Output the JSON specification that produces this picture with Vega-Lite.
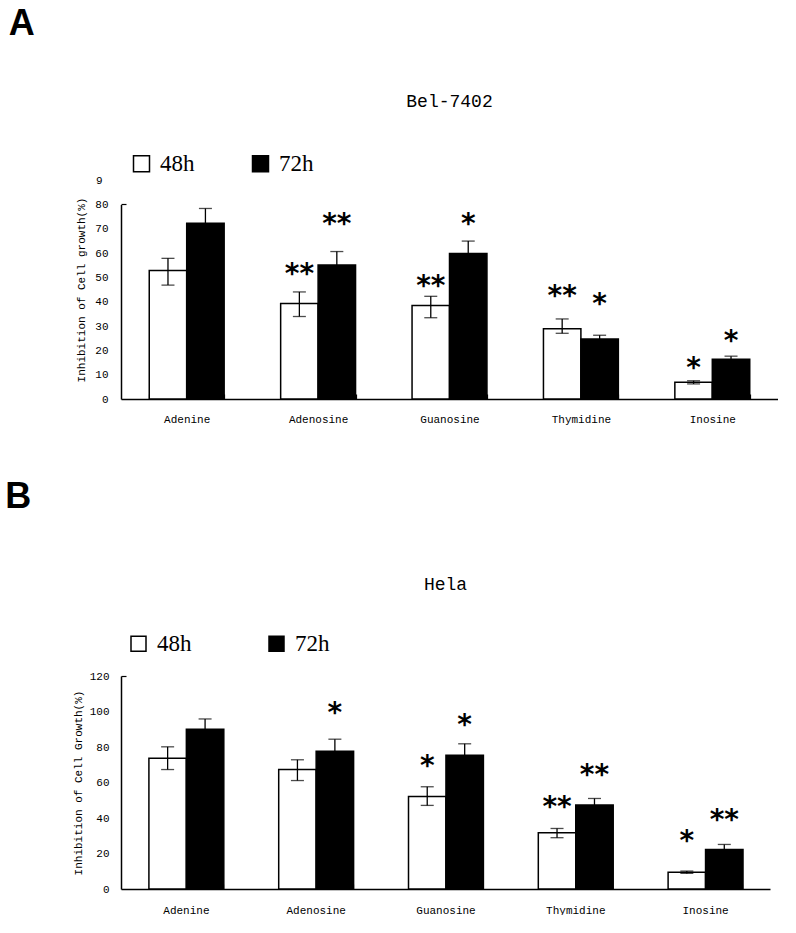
{
  "$schema": "https://vega.github.io/schema/vega-lite/v6.json",
  "background": "white",
  "padding": {"left": 5, "top": 6, "right": 0, "bottom": 0},
  "config": {
    "view": {"stroke": null},
    "axis": {"grid": false, "domainColor": "black", "domainWidth": 1.5, "labelColor": "black", "titleColor": "black", "tickColor": "black", "labelFont": "Liberation Mono", "labelFontSize": 11, "titleFont": "Liberation Mono", "titleFontSize": 11, "titleFontWeight": "normal"},
    "title": {"color": "black"}
  },
  "datasets": {
    "bel": [
      {"compound": "Adenine", "time": "48h", "mean": 52.8, "lo": 46.8, "hi": 57.8, "sig": "", "sig_y": 0},
      {"compound": "Adenine", "time": "72h", "mean": 72.2, "lo": 66.1, "hi": 78.3, "sig": "", "sig_y": 0},
      {"compound": "Adenosine", "time": "48h", "mean": 39.2, "lo": 33.9, "hi": 44.0, "sig": "**", "sig_y": 54.3},
      {"compound": "Adenosine", "time": "72h", "mean": 55.1, "lo": 49.6, "hi": 60.6, "sig": "**", "sig_y": 74.9},
      {"compound": "Guanosine", "time": "48h", "mean": 38.4, "lo": 33.4, "hi": 42.2, "sig": "**", "sig_y": 49.5},
      {"compound": "Guanosine", "time": "72h", "mean": 59.8, "lo": 54.7, "hi": 64.9, "sig": "*", "sig_y": 74.9},
      {"compound": "Thymidine", "time": "48h", "mean": 28.9, "lo": 27.0, "hi": 32.9, "sig": "**", "sig_y": 45.1},
      {"compound": "Thymidine", "time": "72h", "mean": 24.7, "lo": 23.2, "hi": 26.2, "sig": "*", "sig_y": 42.0},
      {"compound": "Inosine", "time": "48h", "mean": 6.9, "lo": 6.2, "hi": 7.5, "sig": "*", "sig_y": 15.6},
      {"compound": "Inosine", "time": "72h", "mean": 16.3, "lo": 15.0, "hi": 17.6, "sig": "*", "sig_y": 26.9}
    ],
    "hela": [
      {"compound": "Adenine", "time": "48h", "mean": 73.7, "lo": 67.3, "hi": 80.1, "sig": "", "sig_y": 0},
      {"compound": "Adenine", "time": "72h", "mean": 90.0, "lo": 84.2, "hi": 95.8, "sig": "", "sig_y": 0},
      {"compound": "Adenosine", "time": "48h", "mean": 67.3, "lo": 61.1, "hi": 72.8, "sig": "", "sig_y": 0},
      {"compound": "Adenosine", "time": "72h", "mean": 77.6, "lo": 70.8, "hi": 84.4, "sig": "*", "sig_y": 103.1},
      {"compound": "Guanosine", "time": "48h", "mean": 52.1, "lo": 47.1, "hi": 57.6, "sig": "*", "sig_y": 73.1},
      {"compound": "Guanosine", "time": "72h", "mean": 75.4, "lo": 69.0, "hi": 81.8, "sig": "*", "sig_y": 96.6},
      {"compound": "Thymidine", "time": "48h", "mean": 31.7, "lo": 28.9, "hi": 34.1, "sig": "**", "sig_y": 50.3},
      {"compound": "Thymidine", "time": "72h", "mean": 47.3, "lo": 43.6, "hi": 51.0, "sig": "**", "sig_y": 67.9},
      {"compound": "Inosine", "time": "48h", "mean": 9.4, "lo": 8.8, "hi": 10.1, "sig": "*", "sig_y": 30.9},
      {"compound": "Inosine", "time": "72h", "mean": 22.3, "lo": 19.5, "hi": 25.1, "sig": "**", "sig_y": 42.6}
    ]
  },
  "resolve": {"scale": {"fill": "independent"}, "legend": {"fill": "independent"}},
  "spacing": 55,
  "vconcat": [
    {
      "title": {"text": "A", "anchor": "start", "frame": "bounds", "font": "Liberation Sans", "fontSize": 36, "fontWeight": "bold", "offset": 50, "dx": -67},
      "vconcat": [
        {
          "title": {"text": "Bel-7402", "font": "Liberation Mono", "fontSize": 18, "fontWeight": "normal", "anchor": "middle", "offset": 63},
          "width": 657,
          "height": 219,
          "data": {"name": "bel"},
          "encoding": {
            "x": {"field": "compound", "type": "nominal", "sort": ["Adenine", "Adenosine", "Guanosine", "Thymidine", "Inosine"], "scale": {"paddingInner": 0.43, "paddingOuter": 0.215}, "axis": {"title": null, "labelAngle": 0, "labelPadding": 19, "tickBand": "extent", "tickSize": -5, "tickWidth": 1.2}},
            "xOffset": {"field": "time", "type": "nominal", "scale": {"paddingInner": 0, "paddingOuter": 0}}
          },
          "layer": [
            {
              "mark": {"type": "bar", "stroke": "black", "strokeWidth": 1.5},
              "encoding": {
                "y": {"field": "mean", "type": "quantitative", "title": "Inhibition of Cell growth(%)", "scale": {"domain": [0, 90]}, "axis": {"titlePadding": 8, "domainDash": [194.5, 60], "values": [0, 10, 20, 30, 40, 50, 60, 70, 80, 90], "labelExpr": "datum.value == 90 ? '9' : datum.label", "labelPadding": {"condition": {"test": "datum.value == 90", "value": 24}, "value": 18}, "tickSize": -5, "tickWidth": 1.2, "tickOpacity": {"condition": {"test": "datum.value == 80", "value": 1}, "value": 0}}},
                "fill": {"field": "time", "type": "nominal", "scale": {"domain": ["48h", "72h"], "range": ["white", "black"]}, "legend": {"orient": "none", "legendX": 9, "legendY": -28, "direction": "horizontal", "title": null, "symbolType": "square", "symbolSize": 256, "symbolStrokeColor": "black", "symbolStrokeWidth": 1.5, "labelFont": "Liberation Serif", "labelFontSize": 23, "labelColor": "black", "labelOffset": 7, "columnPadding": 54, "padding": 0}}
              }
            },
            {
              "mark": {"type": "rule", "color": "black", "strokeWidth": 1.3},
              "encoding": {"y": {"field": "lo", "type": "quantitative", "title": "Inhibition of Cell growth(%)", "axis": {"titlePadding": 8, "domainDash": [194.5, 60], "values": [0, 10, 20, 30, 40, 50, 60, 70, 80, 90], "labelExpr": "datum.value == 90 ? '9' : datum.label", "labelPadding": {"condition": {"test": "datum.value == 90", "value": 24}, "value": 18}, "tickSize": -5, "tickWidth": 1.2, "tickOpacity": {"condition": {"test": "datum.value == 80", "value": 1}, "value": 0}}}, "y2": {"field": "hi"}}
            },
            {
              "mark": {"type": "tick", "color": "black", "thickness": 1.3, "size": 13},
              "encoding": {"y": {"field": "hi", "type": "quantitative", "title": "Inhibition of Cell growth(%)", "axis": {"titlePadding": 8, "domainDash": [194.5, 60], "values": [0, 10, 20, 30, 40, 50, 60, 70, 80, 90], "labelExpr": "datum.value == 90 ? '9' : datum.label", "labelPadding": {"condition": {"test": "datum.value == 90", "value": 24}, "value": 18}, "tickSize": -5, "tickWidth": 1.2, "tickOpacity": {"condition": {"test": "datum.value == 80", "value": 1}, "value": 0}}}}
            },
            {
              "mark": {"type": "tick", "color": "black", "thickness": 1.3, "size": 13},
              "encoding": {"y": {"field": "lo", "type": "quantitative", "title": "Inhibition of Cell growth(%)", "axis": {"titlePadding": 8, "domainDash": [194.5, 60], "values": [0, 10, 20, 30, 40, 50, 60, 70, 80, 90], "labelExpr": "datum.value == 90 ? '9' : datum.label", "labelPadding": {"condition": {"test": "datum.value == 90", "value": 24}, "value": 18}, "tickSize": -5, "tickWidth": 1.2, "tickOpacity": {"condition": {"test": "datum.value == 80", "value": 1}, "value": 0}}}}
            },
            {
              "transform": [{"filter": "datum.sig != ''"}],
              "mark": {"type": "text", "font": "DejaVu Sans", "fontWeight": "bold", "fontSize": 28, "color": "black", "baseline": "alphabetic", "dy": 16},
              "encoding": {"y": {"field": "sig_y", "type": "quantitative", "title": "Inhibition of Cell growth(%)", "axis": {"titlePadding": 8, "domainDash": [194.5, 60], "values": [0, 10, 20, 30, 40, 50, 60, 70, 80, 90], "labelExpr": "datum.value == 90 ? '9' : datum.label", "labelPadding": {"condition": {"test": "datum.value == 90", "value": 24}, "value": 18}, "tickSize": -5, "tickWidth": 1.2, "tickOpacity": {"condition": {"test": "datum.value == 80", "value": 1}, "value": 0}}}, "text": {"field": "sig"}}
            }
          ]
        }
      ]
    },
    {
      "title": {"text": "B", "anchor": "start", "frame": "bounds", "font": "Liberation Sans", "fontSize": 36, "fontWeight": "bold", "offset": 60, "dx": -67},
      "vconcat": [
        {
          "title": {"text": "Hela", "font": "Liberation Mono", "fontSize": 18, "fontWeight": "normal", "anchor": "middle", "offset": 76},
          "width": 649,
          "height": 213,
          "data": {"name": "hela"},
          "encoding": {
            "x": {"field": "compound", "type": "nominal", "sort": ["Adenine", "Adenosine", "Guanosine", "Thymidine", "Inosine"], "scale": {"paddingInner": 0.43, "paddingOuter": 0.215}, "axis": {"title": null, "labelAngle": 0, "labelPadding": 20, "tickBand": "extent", "tickSize": -5, "tickWidth": 1.2}},
            "xOffset": {"field": "time", "type": "nominal", "scale": {"paddingInner": 0, "paddingOuter": 0}}
          },
          "layer": [
            {
              "mark": {"type": "bar", "stroke": "black", "strokeWidth": 1.5},
              "encoding": {
                "y": {"field": "mean", "type": "quantitative", "title": "Inhibition of Cell Growth(%)", "scale": {"domain": [0, 120]}, "axis": {"titlePadding": 6, "values": [0, 20, 40, 60, 80, 100, 120], "labelPadding": 17, "tickSize": -5, "tickWidth": 1.2, "tickOpacity": {"condition": {"test": "datum.value == 120", "value": 1}, "value": 0}}},
                "fill": {"field": "time", "type": "nominal", "scale": {"domain": ["48h", "72h"], "range": ["white", "black"]}, "legend": {"orient": "none", "legendX": 6, "legendY": -44, "direction": "horizontal", "title": null, "symbolType": "square", "symbolSize": 225, "symbolStrokeColor": "black", "symbolStrokeWidth": 1.5, "labelFont": "Liberation Serif", "labelFontSize": 23, "labelColor": "black", "labelOffset": 7, "columnPadding": 73, "padding": 0}}
              }
            },
            {
              "mark": {"type": "rule", "color": "black", "strokeWidth": 1.3},
              "encoding": {"y": {"field": "lo", "type": "quantitative", "title": "Inhibition of Cell Growth(%)", "axis": {"titlePadding": 6, "values": [0, 20, 40, 60, 80, 100, 120], "labelPadding": 17, "tickSize": -5, "tickWidth": 1.2, "tickOpacity": {"condition": {"test": "datum.value == 120", "value": 1}, "value": 0}}}, "y2": {"field": "hi"}}
            },
            {
              "mark": {"type": "tick", "color": "black", "thickness": 1.3, "size": 13},
              "encoding": {"y": {"field": "hi", "type": "quantitative", "title": "Inhibition of Cell Growth(%)", "axis": {"titlePadding": 6, "values": [0, 20, 40, 60, 80, 100, 120], "labelPadding": 17, "tickSize": -5, "tickWidth": 1.2, "tickOpacity": {"condition": {"test": "datum.value == 120", "value": 1}, "value": 0}}}}
            },
            {
              "mark": {"type": "tick", "color": "black", "thickness": 1.3, "size": 13},
              "encoding": {"y": {"field": "lo", "type": "quantitative", "title": "Inhibition of Cell Growth(%)", "axis": {"titlePadding": 6, "values": [0, 20, 40, 60, 80, 100, 120], "labelPadding": 17, "tickSize": -5, "tickWidth": 1.2, "tickOpacity": {"condition": {"test": "datum.value == 120", "value": 1}, "value": 0}}}}
            },
            {
              "transform": [{"filter": "datum.sig != ''"}],
              "mark": {"type": "text", "font": "DejaVu Sans", "fontWeight": "bold", "fontSize": 28, "color": "black", "baseline": "alphabetic", "dy": 16},
              "encoding": {"y": {"field": "sig_y", "type": "quantitative", "title": "Inhibition of Cell Growth(%)", "axis": {"titlePadding": 6, "values": [0, 20, 40, 60, 80, 100, 120], "labelPadding": 17, "tickSize": -5, "tickWidth": 1.2, "tickOpacity": {"condition": {"test": "datum.value == 120", "value": 1}, "value": 0}}}, "text": {"field": "sig"}}
            }
          ]
        }
      ]
    }
  ]
}
